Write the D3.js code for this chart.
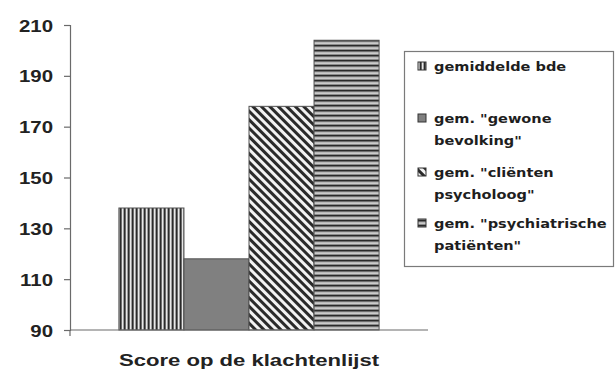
<!DOCTYPE html>
<html>
<head>
<meta charset="utf-8">
<script src="https://cdn.jsdelivr.net/npm/d3@7"></script>
<style>
  html, body { margin: 0; padding: 0; background: #fff; }
  svg { display: block; }
</style>
</head>
<body>
<svg id="chart" width="615" height="373"></svg>
<script>
// Chart data
const categories = ["Score op de klachtenlijst"];
const seriesNames = [
  ["gemiddelde bde"],
  ["gem. \"gewone", "bevolking\""],
  ["gem. \"cliënten", "psycholoog\""],
  ["gem. \"psychiatrische", "patiënten\""]
];
const seriesValues = [138, 118, 178, 204];
const yTicks = [90, 110, 130, 150, 170, 190, 210];
const fills = ["url(#pVert)", "#808080", "url(#pDiag)", "url(#pHorz)"];

const svg = d3.select("#chart");
const defs = svg.append("defs");

// Fill patterns
const pv = defs.append("pattern").attr("id", "pVert").attr("patternUnits", "userSpaceOnUse")
  .attr("width", 4).attr("height", 4);
pv.append("rect").attr("width", 4).attr("height", 4).attr("fill", "#8a8a8a");
pv.append("rect").attr("x", 0).attr("width", 1.3).attr("height", 4).attr("fill", "#2a2a2a");
pv.append("rect").attr("x", 2).attr("width", 1.2).attr("height", 4).attr("fill", "#e8e8e8");

const pd = defs.append("pattern").attr("id", "pDiag").attr("patternUnits", "userSpaceOnUse")
  .attr("width", 6).attr("height", 6).attr("patternTransform", "rotate(-45)");
pd.append("rect").attr("width", 6).attr("height", 6).attr("fill", "#f2f2f2");
pd.append("rect").attr("width", 3).attr("height", 6).attr("fill", "#2a2a2a");

const ph = defs.append("pattern").attr("id", "pHorz").attr("patternUnits", "userSpaceOnUse")
  .attr("width", 4).attr("height", 5);
ph.append("rect").attr("width", 4).attr("height", 5).attr("fill", "#8c8c8c");
ph.append("rect").attr("y", 0).attr("width", 4).attr("height", 1.3).attr("fill", "#2a2a2a");
ph.append("rect").attr("y", 2.5).attr("width", 4).attr("height", 1.2).attr("fill", "#e6e6e6");

// Scales
const plot = { left: 70, right: 428, top: 25, bottom: 330 };
const y = d3.scaleLinear().domain([90, 210]).range([plot.bottom, plot.top]);
const x0 = d3.scaleBand().domain(categories).range([plot.left, plot.right])
  .paddingInner(0).paddingOuter(0.188);
const x1 = d3.scaleBand().domain(d3.range(seriesValues.length)).range([0, x0.bandwidth()]).padding(0);

const axisColor = "#6a6a6a";
const textColor = "#222";

// Bars
const g = svg.append("g");
g.selectAll("rect.bar").data(seriesValues).join("rect")
  .attr("class", "bar")
  .attr("x", (d, i) => x0(categories[0]) + x1(i))
  .attr("y", d => y(d))
  .attr("width", x1.bandwidth())
  .attr("height", d => y(90) - y(d))
  .attr("fill", (d, i) => fills[i])
  .attr("stroke", "#505050")
  .attr("stroke-width", 1);

// Y axis
const yAxis = d3.axisLeft(y).tickValues(yTicks).tickSize(6).tickFormat(d3.format("d"));
const ya = svg.append("g").attr("transform", `translate(${plot.left},0)`).call(yAxis);
ya.select(".domain").attr("stroke", axisColor).attr("stroke-width", 1.2);
ya.selectAll(".tick line").attr("stroke", axisColor).attr("stroke-width", 1.2);
ya.selectAll(".tick text")
  .attr("x", 0).attr("dy", null)
  .attr("transform", "translate(-17,6) scale(1.2,1)")
  .attr("text-anchor", "end")
  .attr("font-family", "Liberation Sans, Arial, sans-serif")
  .attr("font-weight", "bold")
  .attr("font-size", 17)
  .attr("fill", textColor);

// X axis
const xa = svg.append("g").attr("transform", `translate(0,${plot.bottom})`);
xa.append("line").attr("x1", plot.left).attr("x2", plot.right).attr("y1", 0).attr("y2", 0)
  .attr("stroke", axisColor).attr("stroke-width", 1.2);
xa.append("line").attr("x1", plot.left).attr("x2", plot.left).attr("y1", 0).attr("y2", 6)
  .attr("stroke", axisColor).attr("stroke-width", 1.2);
xa.selectAll("text.cat").data(categories).join("text")
  .attr("class", "cat")
  .attr("transform", d => `translate(${x0(d) + x0.bandwidth() / 2},${36}) scale(1.3,1)`)
  .attr("text-anchor", "middle")
  .attr("font-family", "Liberation Sans, Arial, sans-serif")
  .attr("font-weight", "bold")
  .attr("font-size", 17)
  .attr("fill", textColor)
  .text(d => d);

// Legend
const legend = svg.append("g");
legend.append("rect").attr("x", 404.5).attr("y", 51.5).attr("width", 209).attr("height", 215)
  .attr("fill", "#fff").attr("stroke", "#7a7a7a").attr("stroke-width", 1.2);
const rowY = [66, 118, 172, 223];
seriesNames.forEach((lines, i) => {
  const row = legend.append("g");
  row.append("rect").attr("x", 418).attr("y", rowY[i] - 4).attr("width", 8).attr("height", 8)
    .attr("fill", fills[i]).attr("stroke", "#333").attr("stroke-width", 1);
  lines.forEach((t, j) => {
    row.append("text")
      .attr("transform", `translate(434,${rowY[i] + 5 + j * 22}) scale(1.12,1)`)
      .attr("font-family", "DejaVu Sans, sans-serif")
      .attr("font-weight", "bold")
      .attr("font-size", 13)
      .attr("fill", "#1e1e1e")
      .text(t);
  });
});
</script>
</body>
</html>
